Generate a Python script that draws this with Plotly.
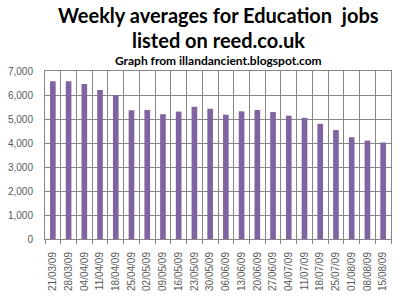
import plotly.graph_objects as go

weeks = ["21/03/09", "28/03/09", "04/04/09", "11/04/09", "18/04/09", "25/04/09",
         "02/05/09", "09/05/09", "16/05/09", "23/05/09", "30/05/09", "06/06/09",
         "13/06/09", "20/06/09", "27/06/09", "04/07/09", "11/07/09", "18/07/09",
         "25/07/09", "01/08/09", "08/08/09", "15/08/09"]
averages = [6570, 6570, 6460, 6210, 6000, 5360, 5380, 5200, 5310, 5510, 5430,
            5180, 5320, 5380, 5290, 5140, 5050, 4800, 4540, 4240, 4100, 4020]

fig = go.Figure()
fig.add_trace(go.Bar(x=weeks, y=averages, marker=dict(color="#8064A2", line=dict(width=0)),
                     width=0.36))

fig.update_layout(
    width=400, height=299,
    margin=dict(l=41, r=8, t=71, b=59),
    paper_bgcolor="white", plot_bgcolor="white",
    showlegend=False,
    font=dict(family="Liberation Sans, Arial", size=10, color="#404040"),
)
fig.add_annotation(text="<b>Weekly averages for Education  jobs</b>", xref="paper", yref="paper",
                   x=0.5, y=1, yshift=56, showarrow=False,
                   font=dict(family="Lato", size=20, color="black"), yanchor="middle")
fig.add_annotation(text="<b>listed on reed.co.uk</b>", xref="paper", yref="paper",
                   x=0.5, y=1, yshift=31, showarrow=False,
                   font=dict(family="Lato", size=20, color="black"), yanchor="middle")
fig.add_annotation(text="<b>Graph from illandancient.blogspot.com</b>", xref="paper", yref="paper",
                   x=0.5, y=1, yshift=11, showarrow=False,
                   font=dict(family="Lato", size=12, color="black"), yanchor="middle")

fig.update_xaxes(type="category", tickangle=-90, tickson="boundaries",
                 showgrid=True, gridcolor="#868686", gridwidth=1,
                 showline=True, linecolor="#868686", mirror=True,
                 ticks="outside", ticklen=4, tickcolor="#868686",
                 ticklabelstandoff=8,
                 tickfont=dict(size=10, color="#595959"))
fig.update_yaxes(range=[0, 7000], dtick=1000, tickformat=",",
                 showgrid=True, gridcolor="#868686", gridwidth=1,
                 showline=True, linecolor="#868686", mirror=True,
                 ticks="", ticklabelstandoff=9,
                 tickfont=dict(size=10, color="#595959"), zeroline=False)

fig.write_html("out.html")
